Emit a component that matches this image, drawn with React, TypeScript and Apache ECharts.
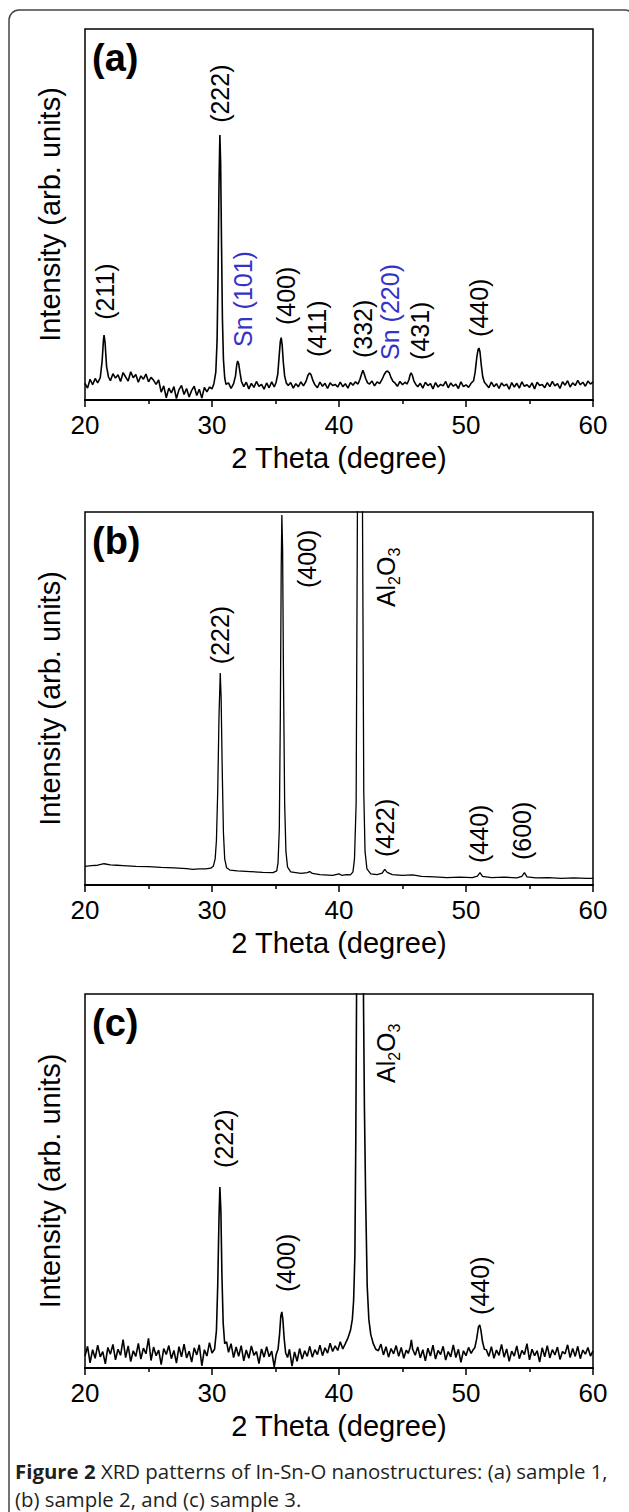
import React, { useEffect, useRef } from "react";
import * as echarts from "echarts";

const FONT = "'Liberation Sans', Arial, Helvetica, sans-serif";
const CAPTION_FONT = "'Open Sans', 'Noto Sans', sans-serif";

const X_MIN = 20;
const X_MAX = 60;
const X_INTERVAL = 10;
const X_TITLE = "2 Theta (degree)";
const Y_TITLE = "Intensity (arb. units)";
const PANEL_LETTERS = ["(a)", "(b)", "(c)"];

// intensity in % of the panel height, 2-theta in degrees
const patternA: number[][] = [
  [20.0,4.5],[20.2,3.2],[20.4,5.6],[20.6,4.1],[20.8,5.8],[21.0,4.6],
  [21.2,6.0],[21.35,10.5],[21.45,16.0],[21.5,17.5],[21.58,15.5],[21.7,9.0],[21.85,6.2],
  [22.0,5.2],[22.2,7.1],[22.4,5.9],[22.6,6.8],[22.8,5.0],[23.0,7.4],[23.2,6.2],[23.4,5.1],[23.6,7.6],[23.8,6.0],[24.0,6.9],[24.2,4.8],[24.4,6.5],[24.6,5.6],[24.8,7.0],[25.0,4.9],[25.2,6.1],[25.4,5.3],[25.6,4.2],[25.8,5.4],
  [26.0,2.1],[26.2,3.8],[26.4,0.6],[26.6,3.2],[26.8,1.9],[27.0,3.6],[27.2,0.4],[27.4,2.8],[27.6,3.9],[27.8,1.5],[28.0,3.1],[28.2,0.8],[28.4,2.6],[28.6,3.7],[28.8,1.2],[29.0,2.9],[29.2,0.5],[29.4,3.4],[29.6,2.2],[29.8,3.5],
  [30.0,3.0],[30.15,4.4],[30.3,7.5],[30.4,16],[30.48,35],[30.55,58],[30.62,71.4],[30.68,64],[30.75,42],[30.82,22],[30.9,11],[31.0,6.0],[31.1,4.2],
  [31.3,4.6],[31.5,3.1],[31.7,4.4],
  [31.85,6.5],[31.95,9.5],[32.02,10.5],[32.1,9.8],[32.2,7.5],[32.32,5.0],
  [32.5,3.6],[32.7,4.8],[32.9,3.0],[33.1,4.5],[33.3,3.4],[33.5,5.0],[33.7,3.7],[33.9,4.2],[34.1,2.9],[34.3,4.6],[34.5,3.3],[34.7,4.9],[34.9,3.5],[35.05,4.8],
  [35.18,7.0],[35.28,11.5],[35.38,15.8],[35.45,16.8],[35.52,15.0],[35.62,10.0],[35.72,6.5],[35.85,4.6],
  [36.0,3.9],[36.2,4.7],[36.4,3.2],[36.6,4.4],[36.8,3.6],[37.0,4.9],[37.2,3.8],
  [37.4,5.0],[37.55,6.6],[37.68,7.3],[37.8,6.8],[37.95,5.2],
  [38.1,4.1],[38.3,3.3],[38.5,4.8],[38.7,3.7],[38.9,4.5],[39.1,3.1],[39.3,4.6],[39.5,3.9],[39.7,4.2],[39.9,3.5],[40.1,4.8],[40.3,3.6],[40.5,4.4],[40.7,3.2],[40.9,4.7],[41.1,4.0],[41.3,4.9],[41.5,4.3],
  [41.65,5.6],[41.78,7.0],[41.88,8.0],[41.97,7.2],[42.1,5.8],[42.25,4.6],
  [42.4,4.3],[42.6,5.1],[42.8,3.8],[43.0,4.9],[43.2,4.4],
  [43.4,5.6],[43.55,6.8],[43.7,7.6],[43.82,7.8],[43.95,7.4],[44.1,6.0],[44.25,5.0],
  [44.4,4.6],[44.6,3.7],[44.8,5.0],[45.0,4.1],[45.2,4.8],[45.35,4.3],
  [45.5,5.4],[45.6,6.8],[45.68,7.3],[45.78,6.6],[45.9,5.1],
  [46.05,4.2],[46.2,3.6],[46.4,4.5],[46.6,3.2],[46.8,4.8],[47.0,3.9],[47.2,4.4],[47.4,3.0],[47.6,4.7],[47.8,3.5],[48.0,4.2],[48.2,3.8],[48.4,5.0],[48.6,3.3],[48.8,4.6],[49.0,3.7],[49.2,4.3],[49.4,3.1],[49.6,4.9],[49.8,3.6],[50.0,4.1],[50.2,3.4],[50.4,4.5],
  [50.6,5.2],[50.72,7.5],[50.85,11.5],[50.95,13.6],[51.02,14.0],[51.1,13.0],[51.2,9.5],[51.32,6.2],[51.45,4.8],
  [51.6,4.2],[51.8,3.3],[52.0,4.8],[52.2,3.6],[52.4,4.4],[52.6,3.1],[52.8,4.6],[53.0,3.8],[53.2,4.3],[53.4,2.9],[53.6,4.7],[53.8,3.5],[54.0,4.5],[54.2,3.2],[54.4,4.9],[54.6,3.7],[54.8,4.1],[55.0,3.4],[55.2,4.6],[55.4,3.0],[55.6,4.8],[55.8,3.9],[56.0,4.2],[56.2,3.3],[56.4,4.7],[56.6,3.6],[56.8,5.0],[57.0,3.8],[57.2,4.4],[57.4,3.1],[57.6,4.9],[57.8,4.0],[58.0,5.2],[58.2,3.5],[58.4,4.6],[58.6,3.9],[58.8,5.3],[59.0,4.1],[59.2,4.8],[59.4,3.7],[59.6,5.1],[59.8,4.3],[60.0,4.9],
];

const patternB: number[][] = [
  [20.0,5.0],[20.5,5.2],[21.0,5.3],[21.5,5.7],[22.0,5.4],[22.5,5.3],[23.0,5.2],[24.0,5.0],[25.0,4.9],[26.0,4.7],[27.0,4.6],[28.0,4.4],[28.5,4.2],[29.0,4.3],[29.5,4.3],[29.9,4.5],
  [30.1,5.0],[30.25,7],[30.35,12],[30.45,25],[30.55,45],[30.65,56.8],[30.72,50],[30.8,32],[30.9,14],[31.0,7],[31.15,4.6],
  [31.4,4.0],[32.0,3.8],[33.0,3.6],[34.0,3.4],[34.8,3.3],
  [35.1,3.8],[35.2,6],[35.3,15],[35.38,45],[35.45,85],[35.5,99.2],[35.56,90],[35.63,55],[35.72,22],[35.82,9],[35.95,4.8],
  [36.2,3.5],[37.0,3.1],[37.5,3.3],[37.7,3.6],[37.9,3.1],[38.5,2.8],[39.5,2.6],[40.0,3.0],[40.2,2.6],[40.6,2.8],[40.9,2.7],
  [41.1,3.5],[41.22,7],[41.35,22],[41.45,100],[41.65,300],[41.85,100],[41.95,25],[42.05,9],[42.2,4.3],
  [42.5,3.0],[43.0,2.8],[43.4,3.2],[43.6,4.2],[43.8,3.4],[44.2,2.8],[45.0,2.6],[45.8,2.7],[46.5,2.3],[47.5,2.2],[48.5,2.0],[49.5,2.1],[50.5,2.0],
  [50.9,2.4],[51.1,3.3],[51.3,2.3],[52.0,2.0],[53.0,2.1],[54.0,1.9],[54.4,2.3],[54.6,3.3],[54.8,2.2],[55.5,1.9],[56.5,2.0],[57.5,1.8],[58.5,1.9],[59.5,1.8],[60.0,1.8],
];

const patternC: number[][] = [
  [20.0,3.2],[20.2,5.8],[20.4,1.4],[20.6,4.9],[20.8,2.6],[21.0,6.1],[21.2,3.0],[21.4,4.4],[21.6,1.1],[21.8,5.5],[22.0,3.7],[22.2,6.3],[22.4,2.2],[22.6,5.0],[22.8,3.4],[23.0,7.6],[23.2,2.8],[23.4,5.9],[23.6,1.7],[23.8,4.6],[24.0,3.1],[24.2,6.6],[24.4,2.4],[24.6,5.3],[24.8,3.8],[25.0,7.9],[25.2,2.0],[25.4,5.6],[25.6,3.3],[25.8,4.8],
  [26.0,0.9],[26.2,5.2],[26.4,3.6],[26.6,6.0],[26.8,2.5],[27.0,4.7],[27.2,1.3],[27.4,5.7],[27.6,3.0],[27.8,6.4],[28.0,2.7],[28.2,4.5],[28.4,1.6],[28.6,5.4],[28.8,3.5],[29.0,6.2],[29.2,0.6],[29.4,4.9],[29.6,3.2],[29.8,6.8],[30.0,4.0],
  [30.2,5.0],[30.35,10],[30.45,22],[30.55,40],[30.62,48.4],[30.7,42],[30.78,25],[30.88,12],[31.0,6.5],
  [31.15,7.0],[31.3,4.2],[31.5,6.5],[31.7,2.8],[31.9,5.6],[32.1,3.1],[32.3,6.0],[32.5,1.9],[32.7,4.8],[32.9,2.6],[33.1,5.9],[33.3,3.4],[33.5,4.4],[33.7,1.2],[33.9,5.1],[34.1,2.9],[34.3,5.7],[34.5,3.0],[34.7,4.5],[34.9,0.3],[35.05,3.6],
  [35.2,5.0],[35.32,9],[35.42,14],[35.5,15],[35.58,13],[35.68,8],[35.8,4.0],
  [35.95,2.8],[36.1,5.0],[36.3,0.5],[36.5,4.3],[36.7,1.8],[36.9,5.2],[37.1,2.4],[37.3,4.6],[37.5,3.1],[37.7,5.8],[37.9,2.9],[38.1,4.9],[38.3,3.6],[38.5,6.1],[38.7,3.3],[38.9,5.4],[39.1,4.0],[39.3,6.6],[39.5,4.4],[39.7,5.9],[39.9,4.7],[40.1,7.0],[40.3,5.1],
  [40.5,6.5],[40.7,8],[40.9,10],[41.05,13],[41.15,18],[41.25,30],[41.32,60],[41.38,98],[41.45,160],[41.65,250],[41.85,160],[41.93,98],[42.0,70],[42.1,45],[42.22,22],[42.35,13],[42.5,9],[42.7,6.5],[42.9,5.0],
  [43.1,4.6],[43.3,6.4],[43.5,3.5],[43.7,5.7],[43.9,2.9],[44.1,5.2],[44.3,3.8],[44.5,6.0],[44.7,3.1],[44.9,5.5],[45.1,2.6],[45.3,4.8],[45.45,3.9],
  [45.6,5.5],[45.7,7.5],[45.8,5.0],
  [46.0,3.4],[46.2,5.6],[46.4,2.7],[46.6,4.9],[46.8,1.9],[47.0,5.3],[47.2,3.2],[47.4,6.1],[47.6,2.4],[47.8,4.7],[48.0,3.6],[48.2,5.8],[48.4,2.1],[48.6,4.4],[48.8,3.0],[49.0,6.2],[49.2,2.8],[49.4,5.0],[49.6,1.5],[49.8,4.6],[50.0,3.3],[50.2,5.5],[50.4,3.9],[50.55,4.8],
  [50.7,5.5],[50.85,8],[50.98,11],[51.08,11.5],[51.18,10],[51.3,7],[51.45,5.0],
  [51.6,4.9],[51.8,3.1],[52.0,5.7],[52.2,2.6],[52.4,4.8],[52.6,3.4],[52.8,6.3],[53.0,2.9],[53.2,5.1],[53.4,1.8],[53.6,4.5],[53.8,3.2],[54.0,5.9],[54.2,2.5],[54.4,4.7],[54.6,3.6],[54.8,6.5],[55.0,2.2],[55.2,5.0],[55.4,3.3],[55.6,4.6],[55.8,1.6],[56.0,5.4],[56.2,3.0],[56.4,6.0],[56.6,2.7],[56.8,4.9],[57.0,3.5],[57.2,5.6],[57.4,2.3],[57.6,4.4],[57.8,3.8],[58.0,6.2],[58.2,2.8],[58.4,5.2],[58.6,3.1],[58.8,5.8],[59.0,2.5],[59.2,4.8],[59.4,3.7],[59.6,5.5],[59.8,3.2],[60.0,4.6],
];

// [text, 2-theta of label centre, intensity % at label start, colour]
const BLACK = "#000000";
const BLUE = "#3333c8";
const labelsA: [string, number, number, string][] = [
  ["(211)", 21.57, 21.6, BLACK],
  ["(222)", 30.63, 74.7, BLACK],
  ["Sn (101)", 32.44, 14.3, BLUE],
  ["(400)", 35.83, 20.2, BLACK],
  ["(411)", 38.27, 11.6, BLACK],
  ["(332)", 41.89, 11.3, BLACK],
  ["Sn (220)", 44.02, 10.8, BLUE],
  ["(431)", 46.38, 10.8, BLACK],
  ["(440)", 51.02, 17.0, BLACK],
];
const labelsB: [string, number, number, string][] = [
  ["(222)", 30.63, 59.2, BLACK],
  ["(400)", 37.48, 79.6, BLACK],
  ["Al2O3", 43.7, 74.5, BLACK],
  ["(422)", 43.66, 7.5, BLACK],
  ["(440)", 51.02, 5.9, BLACK],
  ["(600)", 54.4, 6.7, BLACK],
];
const labelsC: [string, number, number, string][] = [
  ["(222)", 30.94, 53.5, BLACK],
  ["Al2O3", 43.7, 76.2, BLACK],
  ["(400)", 35.83, 20.3, BLACK],
  ["(440)", 51.1, 14.2, BLACK],
];

const CAPTION_BOLD = "Figure 2";
const CAPTION_LINE1 = " XRD patterns of In-Sn-O nanostructures: (a) sample 1,";
const CAPTION_LINE2 = "(b) sample 2, and (c) sample 3.";

// layout
const GRID_LEFT = 85;
const GRID_WIDTH = 508;
const GRID_TOPS = [29, 512, 994];
const GRID_HEIGHTS = [371, 373, 374];
const CAPTION_SIZE = 20.4;

export default function App() {
  const ref = useRef<HTMLDivElement>(null);

  useEffect(() => {
    if (!ref.current) return;
    const chart = echarts.init(ref.current, null, { renderer: "svg" });
    const patterns = [patternA, patternB, patternC];
    const labelSets = [labelsA, labelsB, labelsC];

    const grids = GRID_TOPS.map((top, i) => ({
      left: GRID_LEFT,
      top,
      width: GRID_WIDTH,
      height: GRID_HEIGHTS[i],
      show: true,
      borderColor: "#000",
      borderWidth: 1.5,
      backgroundColor: "transparent",
      containLabel: false,
      outerBoundsMode: "none",
    }));

    const xAxes = GRID_TOPS.map((_, i) => ({
      type: "value",
      gridIndex: i,
      min: X_MIN,
      max: X_MAX,
      interval: X_INTERVAL,
      position: "bottom",
      axisLine: { show: true, onZero: false, lineStyle: { color: "#000", width: 2 } },
      axisTick: { show: true, inside: false, length: 7, lineStyle: { color: "#000", width: 1.5 } },
      minorTick: { show: true, splitNumber: 2, length: 4, lineStyle: { color: "#000", width: 1.5 } },
      axisLabel: { show: true, color: "#000", fontSize: 26, fontFamily: FONT, margin: 12 },
      splitLine: { show: false },
      minorSplitLine: { show: false },
      name: X_TITLE,
      nameLocation: "middle",
      nameGap: 43,
      nameTextStyle: { color: "#000", fontSize: 29, fontFamily: FONT },
    }));

    const yAxes = GRID_TOPS.map((_, i) => ({
      type: "value",
      gridIndex: i,
      min: 0,
      max: 100,
      axisLine: { show: false },
      axisTick: { show: false },
      axisLabel: { show: false },
      splitLine: { show: false },
    }));

    const series = patterns.map((data, i) => ({
      type: "line",
      xAxisIndex: i,
      yAxisIndex: i,
      data,
      showSymbol: false,
      symbol: "none",
      clip: true,
      silent: true,
      lineStyle: { color: "#000", width: i === 1 ? 1.3 : 1.6 },
    }));

    chart.setOption({
      animation: false,
      backgroundColor: "#fff",
      grid: grids,
      xAxis: xAxes,
      yAxis: yAxes,
      series,
    });

    const graphics: any[] = [];
    graphics.push({
      type: "rect",
      silent: true,
      shape: { x: 9, y: 10, width: 626, height: 1520, r: 10 },
      style: { fill: "none", stroke: "#444", lineWidth: 1.5 },
    });

    GRID_TOPS.forEach((top, i) => {
      graphics.push({
        type: "text",
        silent: true,
        x: GRID_LEFT + 7,
        y: top + 10,
        style: {
          text: PANEL_LETTERS[i],
          fill: "#000",
          fontSize: 38,
          fontWeight: "bold",
          fontFamily: FONT,
          align: "left",
          textAlign: "left",
          verticalAlign: "top",
          textVerticalAlign: "top",
        },
      });
      graphics.push({
        type: "text",
        silent: true,
        x: 50,
        y: top + GRID_HEIGHTS[i] / 2,
        rotation: Math.PI / 2,
        style: {
          text: Y_TITLE,
          fill: "#000",
          fontSize: 29,
          fontFamily: FONT,
          align: "center",
          textAlign: "center",
          verticalAlign: "middle",
          textVerticalAlign: "middle",
        },
      });
    });

    labelSets.forEach((set, gi) => {
      set.forEach(([text, theta, y, color]) => {
        const p = chart.convertToPixel({ seriesIndex: gi }, [theta, y]) as number[];
        if (!p) return;
        const isAl = text === "Al2O3";
        graphics.push({
          type: "text",
          silent: true,
          x: p[0],
          y: p[1],
          rotation: Math.PI / 2,
          style: isAl
            ? {
                text: "{n|Al}{s|2}{n|O}{s|3}",
                fill: color,
                fontSize: 25,
                fontFamily: FONT,
                align: "left",
                textAlign: "left",
                verticalAlign: "middle",
                textVerticalAlign: "middle",
                rich: {
                  n: { fontSize: 25, lineHeight: 25, fontFamily: FONT, fill: color, verticalAlign: "top" },
                  s: { fontSize: 16, lineHeight: 16, fontFamily: FONT, fill: color, verticalAlign: "top", padding: [13, 0, 0, 0] },
                },
              }
            : {
                text,
                fill: color,
                fontSize: 25,
                fontFamily: FONT,
                align: "left",
                textAlign: "left",
                verticalAlign: "middle",
                textVerticalAlign: "middle",
              },
        });
      });
    });

    graphics.push({
      type: "text",
      silent: true,
      x: 15,
      y: 1471,
      style: {
        text: "{b|" + CAPTION_BOLD + "}" + CAPTION_LINE1,
        fill: "#231f20",
        fontSize: CAPTION_SIZE,
        fontFamily: CAPTION_FONT,
        align: "left",
        textAlign: "left",
        verticalAlign: "middle",
        textVerticalAlign: "middle",
        rich: {
          b: { fontSize: CAPTION_SIZE, fontFamily: CAPTION_FONT, fontWeight: "bold", fill: "#231f20" },
        },
      },
    });
    graphics.push({
      type: "text",
      silent: true,
      x: 15,
      y: 1499,
      style: {
        text: CAPTION_LINE2,
        fill: "#231f20",
        fontSize: CAPTION_SIZE,
        fontFamily: CAPTION_FONT,
        align: "left",
        textAlign: "left",
        verticalAlign: "middle",
        textVerticalAlign: "middle",
      },
    });

    chart.setOption({ graphic: graphics });

    return () => {
      chart.dispose();
    };
  }, []);

  return (
    <div
      ref={ref}
      style={{ position: "absolute", left: 0, top: 0, width: 629, height: 1512, background: "#fff" }}
    />
  );
}
